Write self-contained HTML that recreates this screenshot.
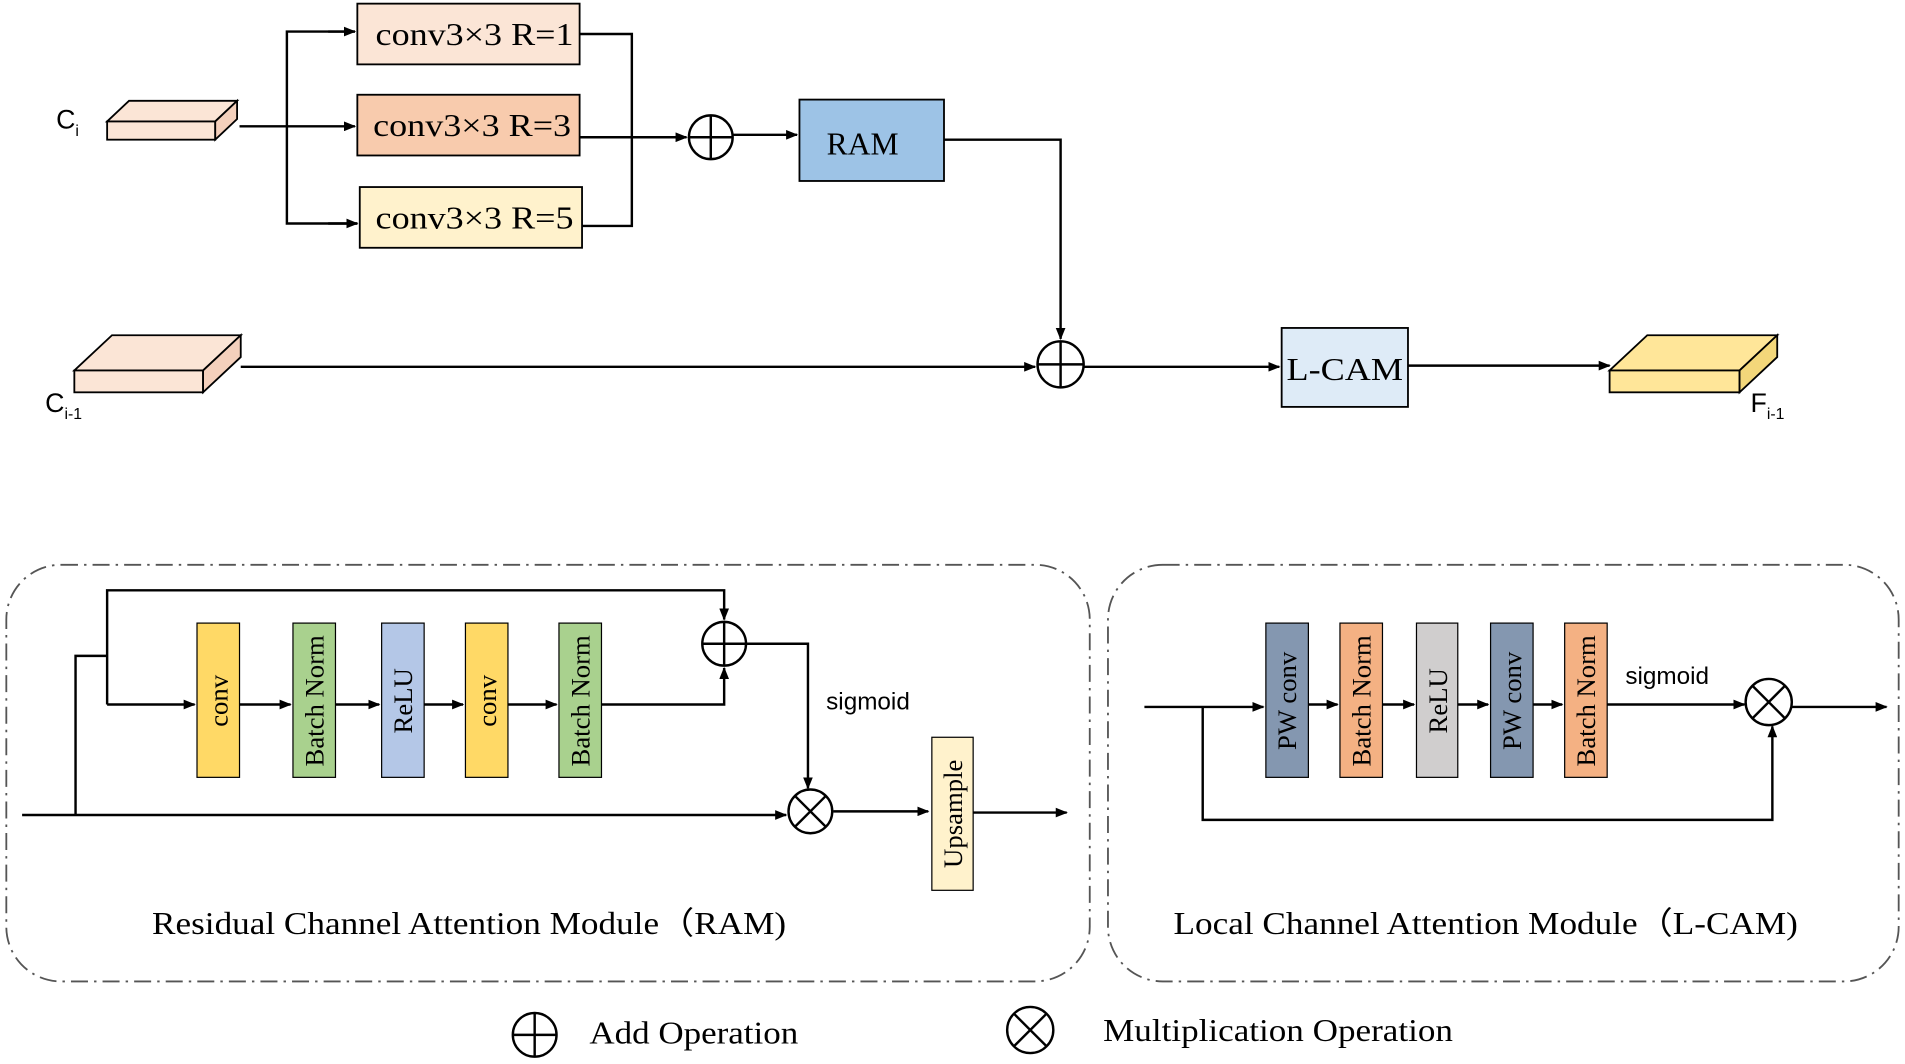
<!DOCTYPE html>
<html><head><meta charset="utf-8"><style>html,body{margin:0;padding:0;background:#fff}svg{display:block}</style></head><body>
<svg width="1905" height="1064" viewBox="0 0 1568 876" xmlns="http://www.w3.org/2000/svg" font-family="Liberation Serif, serif">
<defs><marker id="a" markerWidth="10" markerHeight="8" refX="9" refY="4" orient="auto" markerUnits="userSpaceOnUse"><path d="M0,0 L10,4 L0,8z" fill="#000"/></marker></defs>
<g stroke="#000" stroke-width="2" fill="none">
<line x1="197" y1="104" x2="292" y2="104" marker-end="url(#a)"/>
<polyline points="292,26 236,26 236,184 294,184" /><line x1="270" y1="26" x2="292" y2="26" marker-end="url(#a)"/><line x1="270" y1="184" x2="294" y2="184" marker-end="url(#a)"/>
<polyline points="477,28 520,28 520,186 479,186"/>
<line x1="477" y1="113" x2="565" y2="113" marker-end="url(#a)"/>
<line x1="603" y1="111" x2="656" y2="111" marker-end="url(#a)"/>
<polyline points="777,115 873,115 873,279" marker-end="url(#a)"/>
<line x1="198" y1="302" x2="852" y2="302" marker-end="url(#a)"/>
<line x1="892" y1="302" x2="1053" y2="302" marker-end="url(#a)"/>
<line x1="1159" y1="301" x2="1325" y2="301" marker-end="url(#a)"/>
</g>
<g stroke="#000" stroke-width="1.5">
<polygon points="88,100 106,83 195,83 177,100" fill="#fbe5d6"/><rect x="88" y="100" width="89" height="15" fill="#fbe5d6"/><polygon points="177,100 195,83 195,98 177,115" fill="#f4d0bc"/>
<polygon points="61,305 92,276 198,276 167,305" fill="#fbe5d6"/><rect x="61" y="305" width="106" height="18" fill="#fbe5d6"/><polygon points="167,305 198,276 198,294 167,323" fill="#f4d0bc"/>
<polygon points="1325,305 1356,276 1463,276 1432,305" fill="#ffe699"/><rect x="1325" y="305" width="107" height="18" fill="#ffe699"/><polygon points="1432,305 1463,276 1463,294 1432,323" fill="#f3d77a"/>
</g>
<g font-family="Liberation Sans, sans-serif" font-size="22">
<text x="46" y="106">C<tspan font-size="13" dy="6">i</tspan></text>
<text x="37" y="339">C<tspan font-size="13" dy="6">i-1</tspan></text>
<text x="1441" y="339">F<tspan font-size="13" dy="6">i-1</tspan></text>
</g>
<g stroke="#000" stroke-width="1.5" font-size="26">
<rect x="294" y="3" width="183" height="50" fill="#fbe5d6"/><rect x="294" y="78" width="183" height="50" fill="#f8cbad"/><rect x="296" y="154" width="183" height="50" fill="#fff2cc"/>
<rect x="658" y="82" width="119" height="67" fill="#9dc3e6"/><rect x="1055" y="270" width="104" height="65" fill="#deebf7"/>
</g>
<g font-size="26">
<text x="309" y="37" textLength="163" lengthAdjust="spacingAndGlyphs">conv3×3 R=1</text>
<text x="307" y="112" textLength="163" lengthAdjust="spacingAndGlyphs">conv3×3 R=3</text>
<text x="309" y="188" textLength="163" lengthAdjust="spacingAndGlyphs">conv3×3 R=5</text>
<text x="710" y="127" text-anchor="middle">RAM</text>
<text x="1059" y="313" textLength="96" lengthAdjust="spacingAndGlyphs">L-CAM</text>
</g>
<g stroke="#000" stroke-width="2" fill="#fff">
<circle cx="585" cy="113" r="18"/><path d="M567,113h36M585,95v36"/>
<circle cx="873" cy="300" r="19"/><path d="M854,300h38M873,281v38"/>
<circle cx="596" cy="530" r="18"/><path d="M578,530h36M596,512v36"/>
<circle cx="667" cy="668" r="18"/><path d="M654,655l26,26M680,655l-26,26"/>
<circle cx="1456" cy="578" r="19"/><path d="M1443,565l26,26M1469,565l-26,26"/>
<circle cx="440" cy="852" r="18"/><path d="M422,852h36M440,834v36"/>
<circle cx="848" cy="848" r="19"/><path d="M835,835l26,26M861,835l-26,26"/>
</g>
<g stroke="#555" stroke-width="1.5" fill="none" stroke-dasharray="14,5,2,5">
<rect x="5" y="465" width="892" height="343" rx="45"/><rect x="912" y="465" width="651" height="343" rx="45"/>
</g>
<g stroke="#000" stroke-width="2" fill="none">
<line x1="18" y1="671" x2="647" y2="671" marker-end="url(#a)"/>
<polyline points="62,671 62,540 88,540"/>
<polyline points="88,580 88,486 596,486 596,510" marker-end="url(#a)"/>
<line x1="88" y1="580" x2="160" y2="580" marker-end="url(#a)"/>
<line x1="197" y1="580" x2="239" y2="580" marker-end="url(#a)"/>
<line x1="276" y1="580" x2="312" y2="580" marker-end="url(#a)"/>
<line x1="349" y1="580" x2="381" y2="580" marker-end="url(#a)"/>
<line x1="418" y1="580" x2="458" y2="580" marker-end="url(#a)"/>
<polyline points="495,580 596,580 596,550" marker-end="url(#a)"/>
<polyline points="614,530 665,530 665,649" marker-end="url(#a)"/>
<line x1="686" y1="668" x2="764" y2="668" marker-end="url(#a)"/>
<line x1="801" y1="669" x2="878" y2="669" marker-end="url(#a)"/>
<line x1="942" y1="582" x2="1040" y2="582" marker-end="url(#a)"/>
<line x1="1077" y1="580" x2="1101" y2="580" marker-end="url(#a)"/>
<line x1="1138" y1="580" x2="1164" y2="580" marker-end="url(#a)"/>
<line x1="1200" y1="580" x2="1225" y2="580" marker-end="url(#a)"/>
<line x1="1262" y1="580" x2="1286" y2="580" marker-end="url(#a)"/>
<line x1="1323" y1="580" x2="1436" y2="580" marker-end="url(#a)"/>
<line x1="1475" y1="582" x2="1553" y2="582" marker-end="url(#a)"/>
<polyline points="990,582 990,675 1459,675 1459,598" marker-end="url(#a)"/>
</g>
<g stroke="#000" stroke-width="1">
<rect x="162" y="513" width="35" height="127" fill="#ffd966"/><rect x="241" y="513" width="35" height="127" fill="#a9d18e"/>
<rect x="314" y="513" width="35" height="127" fill="#b4c7e7"/><rect x="383" y="513" width="35" height="127" fill="#ffd966"/>
<rect x="460" y="513" width="35" height="127" fill="#a9d18e"/><rect x="767" y="607" width="34" height="126" fill="#fff2cc"/>
<rect x="1042" y="513" width="35" height="127" fill="#8497b0"/><rect x="1103" y="513" width="35" height="127" fill="#f4b183"/>
<rect x="1166" y="513" width="34" height="127" fill="#d0cece"/><rect x="1227" y="513" width="35" height="127" fill="#8497b0"/>
<rect x="1288" y="513" width="35" height="127" fill="#f4b183"/>
</g>
<g font-size="22" text-anchor="middle">
<text transform="translate(187,577) rotate(-90)">conv</text>
<text transform="translate(266,577) rotate(-90)">Batch Norm</text>
<text transform="translate(339,577) rotate(-90)">ReLU</text>
<text transform="translate(408,577) rotate(-90)">conv</text>
<text transform="translate(485,577) rotate(-90)">Batch Norm</text>
<text transform="translate(792,670) rotate(-90)">Upsample</text>
<text transform="translate(1067,577) rotate(-90)">PW conv</text>
<text transform="translate(1128,577) rotate(-90)">Batch Norm</text>
<text transform="translate(1191,577) rotate(-90)">ReLU</text>
<text transform="translate(1252,577) rotate(-90)">PW conv</text>
<text transform="translate(1313,577) rotate(-90)">Batch Norm</text>
</g>
<g font-family="Liberation Sans, sans-serif" font-size="20">
<text x="680" y="584">sigmoid</text><text x="1338" y="563">sigmoid</text>
</g>
<g font-size="26">
<text x="125" y="769" textLength="522" lengthAdjust="spacingAndGlyphs">Residual Channel Attention Module（RAM)</text>
<text x="966" y="769" textLength="514" lengthAdjust="spacingAndGlyphs">Local Channel Attention Module（L-CAM)</text>
<text x="485" y="859" textLength="172" lengthAdjust="spacingAndGlyphs">Add Operation</text>
<text x="908" y="857" textLength="288" lengthAdjust="spacingAndGlyphs">Multiplication Operation</text>
</g>
</svg>
</body></html>
